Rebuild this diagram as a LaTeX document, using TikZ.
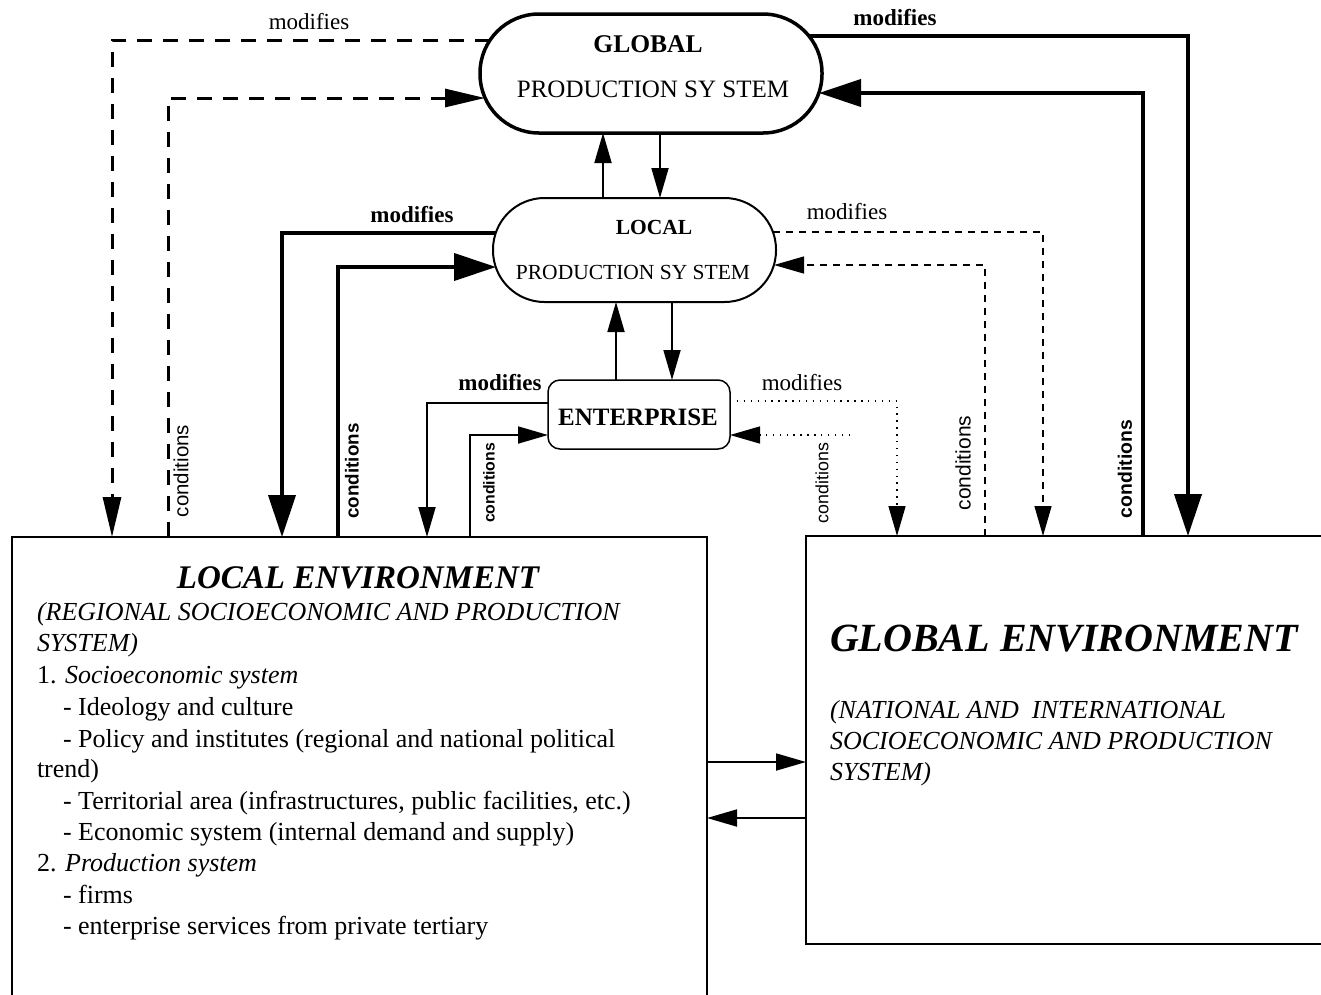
\documentclass[tikz,border=0pt]{standalone}
\usepackage{fontspec}
\setmainfont{Liberation Serif}
\newfontfamily\condfont{Liberation Sans}
\usetikzlibrary{arrows.meta}
\begin{document}
\begin{tikzpicture}[x=1pt,y=-1pt,
  every node/.style={inner sep=0pt,outer sep=0pt},
  thickline/.style={line width=4pt},
  thinline/.style={line width=1.8pt},
  dthick/.style={line width=3pt,dash pattern=on 15pt off 11pt},
  dthin/.style={line width=1.2pt,dash pattern=on 7pt off 6pt},
  dotline/.style={line width=1.4pt,dash pattern=on 1.4pt off 5.5pt},
  bighead/.style={-{Triangle[length=42pt,width=27pt]}},
  narhead/.style={-{Triangle[length=40pt,width=18pt]}},
  smallhead/.style={-{Triangle[length=30pt,width=17pt]}},
  ellbox/.style={draw,rectangle},
  envbox/.style={draw,rectangle,line width=1.6pt},
  mod/.style={font=\fontsize{23}{23}\selectfont},
  modb/.style={font=\fontsize{23}{23}\selectfont\bfseries},
  cond/.style={rotate=90,font=\condfont\fontsize{#1}{#1}\selectfont},
  condb/.style={rotate=90,font=\condfont\fontsize{#1}{#1}\selectfont\bfseries},
  body/.style={anchor=base west,font=\fontsize{26}{26}\selectfont},
  bodyit/.style={anchor=base west,font=\fontsize{26}{26}\selectfont\itshape},
]
\useasboundingbox (0,0) rectangle (1321,994);

% main nodes
\node[ellbox,line width=3.5pt,rounded corners=59pt,minimum width=342pt,minimum height=119pt] (gps) at (651,73.5) {};
\node[ellbox,line width=2pt,rounded corners=51.5pt,minimum width=283pt,minimum height=104pt] (lps) at (634.5,250) {};
\node[ellbox,line width=1.5pt,rounded corners=12pt,minimum width=182pt,minimum height=69pt] (ent) at (639,414.5) {};
\node[envbox,minimum width=695pt,minimum height=463pt] (lenv) at (359.5,768.5) {};
\node[envbox,minimum width=519pt,minimum height=408pt] (genv) at (1065.5,740) {};

% texts in the production systems
\node[anchor=base,font=\fontsize{25.5}{25.5}\selectfont\bfseries] (gpst1) at (648,52) {GLOBAL};
\node[anchor=base,font=\fontsize{25}{25}\selectfont] (gpst2) at (653,97) {PRODUCTION SY STEM};
\node[anchor=base,font=\fontsize{21.5}{21.5}\selectfont\bfseries] (lpst1) at (654,234) {LOCAL};
\node[anchor=base,font=\fontsize{21.5}{21.5}\selectfont] (lpst2) at (633,279) {PRODUCTION SY STEM};
\node[anchor=base,font=\fontsize{25}{25}\selectfont\bfseries] (entt) at (638,425) {ENTERPRISE};

% local environment text
\node[anchor=base,font=\fontsize{33}{33}\selectfont\bfseries\itshape] (lt0) at (358,588) {LOCAL ENVIRONMENT};
\node[bodyit] (lt1) at (37,620) {(REGIONAL SOCIOECONOMIC AND PRODUCTION};
\node[bodyit] (lt2) at (37,651) {SYSTEM)};
\node[body] (lt3) at (37,683) {1. \textit{Socioeconomic system}};
\node[body] (lt4) at (63,715) {- Ideology and culture};
\node[body] (lt5) at (63,747) {- Policy and institutes (regional and national political};
\node[body] (lt6) at (37,777) {trend)};
\node[body] (lt7) at (63,809) {- Territorial area (infrastructures, public facilities, etc.)};
\node[body] (lt8) at (63,840) {- Economic system (internal demand and supply)};
\node[body] (lt9) at (37,871) {2. \textit{Production system}};
\node[body] (lt10) at (63,903) {- firms};
\node[body] (lt11) at (63,934) {- enterprise services from private tertiary};

% global environment text
\node[anchor=base west,font=\fontsize{40}{40}\selectfont\bfseries\itshape] (gt0) at (830,651) {GLOBAL ENVIRONMENT};
\node[bodyit] (gt1) at (830,718) {(NATIONAL AND\ \ INTERNATIONAL};
\node[bodyit] (gt2) at (830,749) {SOCIOECONOMIC AND PRODUCTION};
\node[bodyit] (gt3) at (830,780) {SYSTEM)};

% vertical links between central nodes
\draw[thinline,smallhead] ([xshift=-31.5pt]lps.north) -- ([xshift=-48pt]gps.south);
\draw[thinline,smallhead] ([xshift=9pt]gps.south) -- ([xshift=25.5pt]lps.north);
\draw[thinline,smallhead] ([xshift=-23pt]ent.north) -- ([xshift=-18.5pt]lps.south);
\draw[thinline,smallhead] ([xshift=37.5pt]lps.south) -- ([xshift=33pt]ent.north);

% left side
\draw[dthick,narhead] ([xshift=10pt,yshift=33.5pt]gps.west) -| ([xshift=100pt]lenv.north west);
\draw[dthick,narhead] ([xshift=156pt]lenv.north west) |- ([xshift=5pt,yshift=-24.5pt]gps.west);
\draw[thickline,bighead] ([xshift=3pt,yshift=17pt]lps.west) -| ([xshift=270pt]lenv.north west);
\draw[thickline,bighead] ([xshift=326pt]lenv.north west) |- ([xshift=3pt,yshift=-17pt]lps.west);
\draw[thinline,smallhead] ([yshift=11.5pt]ent.west) -| ([xshift=415pt]lenv.north west);
\draw[thinline,smallhead] ([xshift=458pt]lenv.north west) |- ([yshift=-20.5pt]ent.west);

% right side
\draw[thickline,bighead] ([xshift=-13pt,yshift=37.5pt]gps.east) -| ([xshift=382pt]genv.north west);
\draw[thickline,bighead] ([xshift=337pt]genv.north west) |- ([xshift=-3pt,yshift=-19.5pt]gps.east);
\draw[dthin,smallhead] ([xshift=-3pt,yshift=18pt]lps.east) -| ([xshift=237pt]genv.north west);
\draw[dthin,smallhead] ([xshift=179pt]genv.north west) |- ([xshift=-2pt,yshift=-15pt]lps.east);
\draw[dotline,smallhead] ([yshift=13.5pt]ent.east) -| ([xshift=91pt]genv.north west);
\coordinate (c6) at (850,435);
\draw[dotline,smallhead] (c6) -- ([yshift=-20.5pt]ent.east);

% between environments
\draw[thinline,smallhead] ([yshift=6.5pt]lenv.east) -- ([yshift=-22pt]genv.west);
\draw[thinline,smallhead] ([yshift=-78pt]genv.west) -- ([yshift=-49.5pt]lenv.east);

% labels
\node[mod] (m1) at (309,22) {modifies};
\node[modb] (m2) at (895,18) {modifies};
\node[modb] (m3) at (412,215) {modifies};
\node[mod] (m4) at (847,212) {modifies};
\node[modb] (m5) at (500,383) {modifies};
\node[mod] (m6) at (802,383) {modifies};
\node[cond=20.5] (k1) at (181,471) {conditions};
\node[condb=18.8] (k2) at (352,471) {conditions};
\node[condb=15.8] (k3) at (489,483) {conditions};
\node[cond=17.8] (k4) at (822,483) {conditions};
\node[cond=21] (k5) at (963,463) {conditions};
\node[condb=19.4] (k6) at (1125,469) {conditions};
\end{tikzpicture}
\end{document}
